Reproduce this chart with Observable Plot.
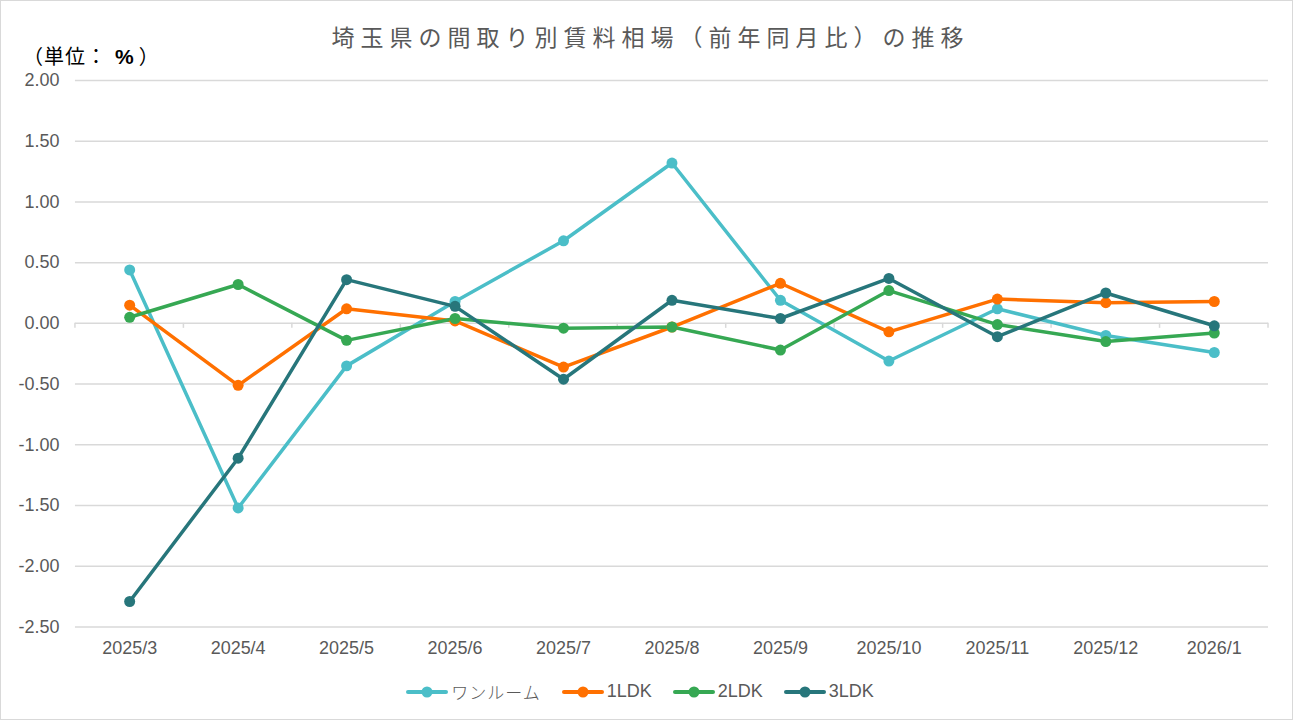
<!DOCTYPE html>
<html>
<head>
<meta charset="utf-8">
<script src="https://cdn.jsdelivr.net/npm/d3@7"></script>
<script src="https://cdn.jsdelivr.net/npm/@observablehq/plot@0.6"></script>
<style>
  html, body { margin: 0; padding: 0; background: #fff; }
  #frame { position: relative; width: 1293px; height: 720px; box-sizing: border-box; border: 1px solid #d9d9d9; background: #fff; overflow: hidden; }
  #title { position: absolute; top: 20px; left: 4px; width: 100%; text-align: center; font-family: "Noto Sans CJK JP", sans-serif; font-size: 23px; line-height: 30px; letter-spacing: 6px; color: #595959; }
  #unit { position: absolute; top: 45px; left: 22px; height: 20px; font-family: "Noto Sans CJK JP", sans-serif; font-size: 20px; line-height: 20px; font-weight: 400; letter-spacing: 1px; color: #000; white-space: nowrap; }
  #unit .pct { font-family: "Liberation Sans", Arial, sans-serif; font-size: 21px; line-height: 20px; font-weight: 700; padding: 0 4px 0 8px; }
  #chart { position: absolute; top: -1px; left: -1px; }
  #legend { position: absolute; top: 678px; left: -7px; width: 100%; display: flex; justify-content: center; align-items: center; gap: 20px; font-family: "Liberation Sans", Arial, "Noto Sans CJK JP", sans-serif; font-size: 18px; color: #595959; }
  .item { display: flex; align-items: center; gap: 2px; }
  .jp { font-family: "Noto Sans CJK JP", sans-serif; font-weight: 300; font-size: 17px; letter-spacing: 1px; }
</style>
</head>
<body>
<div id="frame">
  <div id="title">埼玉県の間取り別賃料相場（前年同月比）の推移</div>
  <div id="unit">（単位：<span class="pct">%</span>）</div>
  <div id="chart"></div>
  <div id="legend"></div>
</div>
<script>
// ---- data ----
const months = ["2025/3","2025/4","2025/5","2025/6","2025/7","2025/8","2025/9","2025/10","2025/11","2025/12","2026/1"];
const oneRoom = [0.44, -1.52, -0.35, 0.18, 0.68, 1.32, 0.19, -0.31, 0.12, -0.10, -0.24];
const ldk1    = [0.15, -0.51, 0.12, 0.02, -0.36, -0.03, 0.33, -0.07, 0.20, 0.17, 0.18];
const ldk2    = [0.05, 0.32, -0.14, 0.04, -0.04, -0.03, -0.22, 0.27, -0.01, -0.15, -0.08];
const ldk3    = [-2.29, -1.11, 0.36, 0.14, -0.46, 0.19, 0.04, 0.37, -0.11, 0.25, -0.02];
const seriesNames = ["ワンルーム", "1LDK", "2LDK", "3LDK"];
const seriesColors = ["#4bbec8", "#ff7000", "#36a853", "#27767b"];
const yTicks = [2, 1.5, 1, 0.5, 0, -0.5, -1, -1.5, -2, -2.5];

const seriesValues = [oneRoom, ldk1, ldk2, ldk3];
const rows = [];
seriesNames.forEach((name, si) => {
  months.forEach((m, i) => rows.push({series: name, month: m, value: seriesValues[si][i]}));
});

// category boundary tick marks on the horizontal (zero) axis
function categoryTicks(index, scales) {
  const x = scales.x, y = scales.y;
  const step = x(months[1]) - x(months[0]);
  const y0 = y(0);
  const g = d3.create("svg:g").attr("stroke", "#d9d9d9").attr("stroke-width", 1.5);
  const bounds = months.map(m => x(m) - step / 2).concat([x(months[months.length - 1]) + step / 2]);
  for (const bx of bounds) {
    g.append("line").attr("x1", bx).attr("x2", bx).attr("y1", y0).attr("y2", y0 + 5);
  }
  return g.node();
}

const chart = Plot.plot({
  width: 1293,
  height: 665,
  marginTop: 80,
  marginBottom: 38,
  marginLeft: 75,
  marginRight: 24,
  style: {fontFamily: "'Liberation Sans', Arial, sans-serif", fontSize: "18px", color: "#595959", background: "transparent"},
  x: {type: "point", domain: months, padding: 0.5, round: false, label: null},
  y: {domain: [-2.5, 2], label: null},
  color: {domain: seriesNames, range: seriesColors},
  marks: [
    Plot.ruleY(yTicks, {stroke: "#d9d9d9", strokeWidth: 1.5}),
    categoryTicks,
    Plot.axisY(yTicks, {tickSize: 0, tickPadding: 16, tickFormat: d => d.toFixed(2), label: null, fontSize: 18, fill: "#595959"}),
    Plot.axisX({tickSize: 0, tickPadding: 14, label: null, fontSize: 18, fill: "#595959"}),
    Plot.line(rows, {x: "month", y: "value", z: "series", stroke: "series", strokeWidth: 3.5, strokeLinejoin: "round", strokeLinecap: "round"}),
    Plot.dot(rows, {x: "month", y: "value", fill: "series", r: 5.5})
  ]
});
document.getElementById("chart").appendChild(chart);

// legend
const legend = d3.select("#legend");
seriesNames.forEach((name, i) => {
  const item = legend.append("div").attr("class", "item");
  const sw = item.append("svg").attr("width", 44).attr("height", 14);
  sw.append("line").attr("x1", 3).attr("x2", 41).attr("y1", 7).attr("y2", 7)
    .attr("stroke", seriesColors[i]).attr("stroke-width", 4).attr("stroke-linecap", "round");
  sw.append("circle").attr("cx", 22).attr("cy", 7).attr("r", 5.5).attr("fill", seriesColors[i]);
  item.append("span").attr("class", i === 0 ? "jp" : null).text(name);
});
</script>
</body>
</html>
